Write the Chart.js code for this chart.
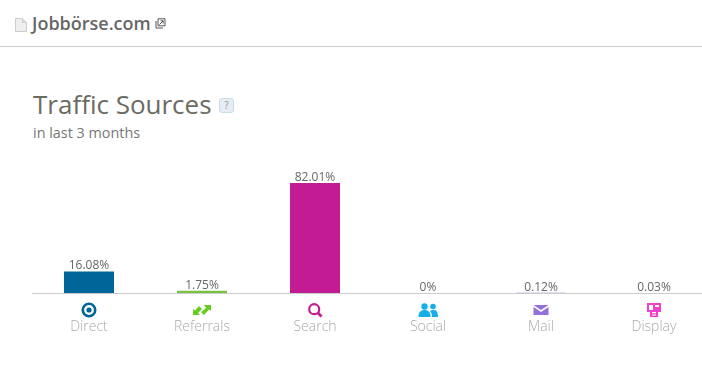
<!DOCTYPE html>
<html>
<head>
<meta charset="utf-8">
<script src="https://cdn.jsdelivr.net/npm/chart.js@4/dist/chart.umd.min.js"></script>
<style>
  html, body {margin: 0; padding: 0; width: 702px; height: 373px; overflow: hidden; background: #fff;}
  body {position: relative; font-family: "Open Sans", sans-serif; color: #666;}
  #site {position: absolute; left: 32px; top: 11px; font-size: 18px; font-weight: 600; line-height: 25px; color: #666;}
  #rule {position: absolute; left: 0; top: 46px; width: 702px; height: 1px; background: #ccc;}
  #title {position: absolute; left: 33px; top: 86px; font-size: 26px; line-height: 36px; color: #6b6b62;}
  #sub {position: absolute; left: 33px; top: 123px; font-size: 14.4px; line-height: 20px; color: #777;}
  #help {position: absolute; left: 219px; top: 98px; width: 15px; height: 15px; box-sizing: border-box; border: 1px solid #c9dbe6; border-radius: 3px; background: #e6eef4; font-size: 10px; line-height: 13px; text-align: center; color: #89a;}
  #file {position: absolute; left: 15px; top: 18px;}
  #ext {position: absolute; left: 155px; top: 18px;}
  #wrap {position: absolute; left: 0; top: 150px; width: 720px; height: 200px;}
</style>
</head>
<body>
<svg id="file" width="12" height="14" viewBox="0 0 12 14"><path d="M.5.5h7l4 4v9H.5z" fill="#eee" stroke="#ccc"/><path d="M7.5.5v4h4" fill="#ddd" stroke="#ccc"/></svg>
<div id="site">Jobbörse.com</div>
<svg id="ext" width="11" height="11" viewBox="0 0 11 11"><path d="M3 .8h7v7H3zM1 3v7h7" fill="none" stroke="#555" stroke-width="1"/><path d="M4.5 6.5L8 3M5.5 2.8H8.2V5.5" fill="none" stroke="#555" stroke-width="1"/></svg>
<div id="rule"></div>
<div id="title">Traffic Sources</div>
<div id="help">?</div>
<div id="sub">in last 3 months</div>
<div id="wrap"><canvas id="chart" width="720" height="200"></canvas></div>
<script>
const categories = ['Direct', 'Referrals', 'Search', 'Social', 'Mail', 'Display'];
const shares = [16.08, 1.75, 82.01, 0, 0.12, 0.03];
const barColors = ['#006699', '#7ac143', '#c21b93', '#16aee8', '#9370db', '#f13fcf'];
const iconColors = ['#006699', '#66cc22', '#c21b93', '#16aee8', '#9370db', '#f13fcf'];

// little category icons, centred on 0,0
const icons = [
  (c, col) => {
    c.strokeStyle = col; c.lineWidth = 2.6;
    c.beginPath(); c.arc(0, 0, 6.2, 0, Math.PI * 2); c.stroke();
    c.fillStyle = col;
    c.beginPath(); c.arc(0, 0, 2.6, 0, Math.PI * 2); c.fill();
  },
  (c, col) => {
    c.fillStyle = col;
    c.fill(new Path2D('M-9 5V-1l2 1.5L-3-4l3 3-4 4 2 2z'));
    c.fill(new Path2D('M9-5v6L7-.5 2 5-1 2l5-4-2-3z'));
  },
  (c, col) => {
    c.strokeStyle = col; c.lineWidth = 2.2;
    c.beginPath(); c.arc(-0.8, -0.8, 5, 0, Math.PI * 2); c.stroke();
    c.lineWidth = 2.8;
    c.beginPath(); c.moveTo(3, 3); c.lineTo(6.5, 6.5); c.stroke();
  },
  (c, col) => {
    c.fillStyle = col;
    c.beginPath(); c.arc(-3.5, -3.5, 3.2, 0, Math.PI * 2); c.fill();
    c.fill(new Path2D('M-9.5 7c0-5 2-7 6-7s6 2 6 7z'));
    c.beginPath(); c.arc(5, -3.5, 2.8, 0, Math.PI * 2); c.fill();
    c.fill(new Path2D('M4 7c0-3-1-5-2-6 1-1 3-1 4-1 3 0 4 3 4 7z'));
  },
  (c, col) => {
    c.fillStyle = col;
    c.fill(new Path2D('M-7.5-5h15l-7.5 5zM-7.5-3l7.5 5 7.5-5v8h-15z'));
  },
  (c, col) => {
    c.fillStyle = col;
    c.fill(new Path2D('M-7-7H7V2H4V7H-4V2H-7zM-5-5V0H-1V-5zM1-5V-3H5V-5zM-2 2V3.2H2V2zM-2 4.4V5.6H2V4.4z'), 'evenodd');
  }
];

const valueLabels = {
  id: 'valueLabels',
  afterDatasetsDraw(chart) {
    const c = chart.ctx;
    const meta = chart.getDatasetMeta(0);
    c.save();
    c.font = '12px "Open Sans"';
    c.fillStyle = '#666';
    c.textAlign = 'center';
    c.textBaseline = 'alphabetic';
    meta.data.forEach((bar, i) => {
      c.fillText(shares[i] + '%', bar.x, bar.y - 2);
    });
    c.restore();
  }
};

const iconRow = {
  id: 'iconRow',
  afterDraw(chart) {
    const c = chart.ctx;
    const x = chart.scales.x;
    icons.forEach((draw, i) => {
      c.save();
      c.translate(x.getPixelForTick(i), chart.chartArea.bottom + 17);
      draw(c, iconColors[i]);
      c.restore();
    });
  }
};

new Chart(document.getElementById('chart').getContext('2d'), {
  type: 'bar',
  data: {
    labels: categories,
    datasets: [{data: shares, backgroundColor: barColors, barThickness: 50, inflateAmount: 0}]
  },
  options: {
    responsive: false,
    animation: false,
    layout: {padding: {left: 32.5, right: 9.5, top: 9, bottom: 0}},
    plugins: {legend: {display: false}, tooltip: {enabled: false}},
    scales: {
      x: {
        z: 1,
        grid: {drawOnChartArea: false, drawTicks: false},
        border: {color: '#ccc', width: 1},
        ticks: {color: '#aaa', padding: 26, font: {family: '"Open Sans"', size: 14, weight: '300'}, maxRotation: 0},
        afterFit(scale) { scale.height = 57; }
      },
      y: {display: false, min: 0, max: 100, grid: {lineWidth: 0}}
    }
  },
  plugins: [valueLabels, iconRow]
});
</script>
</body>
</html>
